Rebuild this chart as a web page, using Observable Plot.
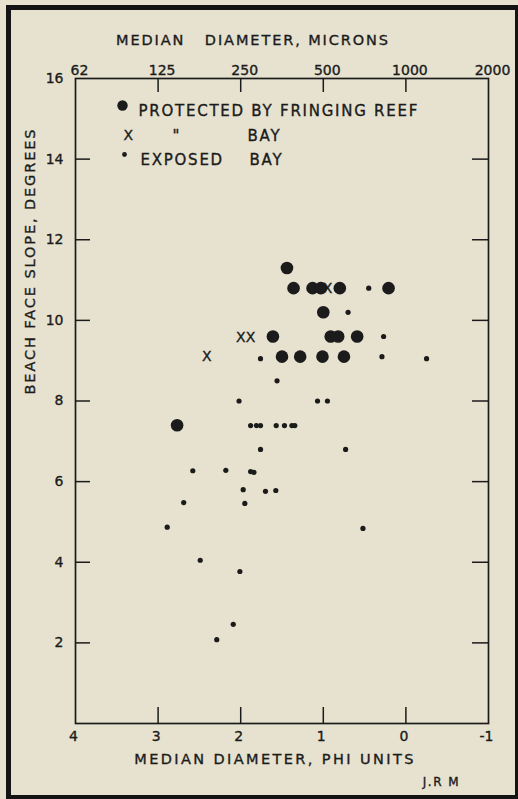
<!DOCTYPE html>
<html><head><meta charset="utf-8">
<script src="https://cdn.jsdelivr.net/npm/d3@7"></script>
<script src="https://cdn.jsdelivr.net/npm/@observablehq/plot@0.6"></script>
<style>
html,body{margin:0;padding:0;background:#e8e5d4;}
#wrap{position:relative;width:518px;height:799px;overflow:hidden;}
#border{position:absolute;left:6px;top:5px;width:512px;height:794px;box-sizing:border-box;border-style:solid;border-color:#141414;border-width:5px 3px 4px 5px;pointer-events:none;}
</style></head><body>
<div id="wrap"><div id="chart"></div><div id="border"></div></div>
<script>
// ---- tick values & labels ----
const phiTicks = [4, 3, 2, 1, 0, -1];
const phiLabels = ["4", "3", "2", "1", "0", "-1"];
const micronLabels = ["62", "125", "250", "500", "1000", "2000"];
const innerPhiTicks = [3, 2, 1, 0];
const slopeTicks = [2, 4, 6, 8, 10, 12, 14, 16];
const innerSlopeTicks = [2, 4, 6, 8, 10, 12, 14];

// ---- series: protected by fringing reef (large dots) ----
const reefPhi   = [1.44, 1.36, 1.13, 1.03, 0.80, 0.21, 1.00, 1.61, 0.91, 0.82, 0.59, 1.50, 1.28, 1.01, 0.75, 2.77];
const reefSlope = [11.3, 10.8, 10.8, 10.8, 10.8, 10.8, 10.2, 9.6,  9.6,  9.6,  9.6,  9.1,  9.1,  9.1,  9.1,  7.4];

// ---- series: protected bay (X) ----
const bayPhi   = [0.95, 2.00, 1.88, 2.41];
const baySlope = [10.8, 9.57, 9.57, 9.1];

// ---- series: exposed bay (small dots) ----
const exposedPhi   = [0.45, 0.70, 0.27, 1.76, 0.29, -0.25, 1.56, 2.02, 1.07, 0.95, 1.88, 1.81, 1.76, 1.57, 1.47, 1.38, 1.345, 1.76, 0.73, 2.58, 2.18, 1.88, 1.84, 1.97, 1.70, 1.575, 2.69, 1.95, 2.89, 0.52, 2.49, 2.01, 2.09, 2.29];
const exposedSlope = [10.8, 10.2, 9.6,  9.05, 9.1,  9.05,  8.5,  8.0,  8.0,  8.0,  7.39, 7.39, 7.39, 7.39, 7.39, 7.39, 7.39,  6.8,  6.8,  6.27, 6.28, 6.25, 6.23, 5.8,  5.76, 5.78,  5.48, 5.46, 4.87, 4.84, 4.05, 3.77, 2.46, 2.08];

// ---- texts ----
const topTitle = "MEDIAN\u00a0\u00a0\u00a0DIAMETER, MICRONS";
const bottomTitle = "MEDIAN DIAMETER, PHI UNITS";
const yTitle = "BEACH FACE SLOPE, DEGREES";
const credit = "J.R\u00a0M";
const legendReef = "PROTECTED BY FRINGING REEF";
const legendDitto = "\"";
const legendBay = "BAY";
const legendExposed = "EXPOSED";

const W = 518, H = 799;
const mL = 75, mR = 30, mT = 78, mB = 76;
const innerW = W - mL - mR, innerH = H - mT - mB;
const ink = "#1b1b1b";
const font = "'DejaVu Sans', 'Liberation Sans', sans-serif";

const chart = Plot.plot({
  width: W, height: H,
  marginLeft: mL, marginRight: mR, marginTop: mT, marginBottom: mB,
  style: {background: "#e6e2cf", fontFamily: font, fontSize: "14px", color: ink},
  x: {domain: [4, -1]},
  y: {domain: [0, 16]},
  marks: [
    Plot.frame({stroke: ink, strokeWidth: 1.7}),
    // inward ticks
    Plot.tickX(innerPhiTicks, {x: d => d, insetTop: innerH - 16, stroke: ink, strokeWidth: 1.5}),
    Plot.tickX(innerPhiTicks, {x: d => d, insetBottom: innerH - 14, stroke: ink, strokeWidth: 1.5}),
    Plot.tickY(innerSlopeTicks, {y: d => d, insetRight: innerW - 15, stroke: ink, strokeWidth: 1.5}),
    Plot.tickY(innerSlopeTicks, {y: d => d, insetLeft: innerW - 16, stroke: ink, strokeWidth: 1.5}),
    // axis labels
    Plot.axisX(phiTicks, {anchor: "bottom", tickSize: 0, tickPadding: 8, dx: -2, label: null, fill: ink, fontSize: 14,
      tickFormat: d => phiLabels[phiTicks.indexOf(d)]}),
    Plot.axisX(phiTicks, {anchor: "top", tickSize: 0, tickPadding: 4, dx: 4, label: null, fill: ink, fontSize: 14,
      tickFormat: d => micronLabels[phiTicks.indexOf(d)]}),
    Plot.axisY(slopeTicks, {anchor: "left", tickSize: 0, tickPadding: 12, label: null, fill: ink, fontSize: 14}),
    // titles
    Plot.text([topTitle], {text: d => d, frameAnchor: "top", dx: -29, dy: -44, fontSize: 14.5, fill: ink}),
    Plot.text([bottomTitle], {text: d => d, frameAnchor: "bottom", dx: -7, dy: 40, fontSize: 14.5, fill: ink}),
    Plot.text([yTitle], {text: d => d, frameAnchor: "left", rotate: -90, dx: -45, dy: -6.5, fontSize: 14.5, fill: ink}),
    Plot.text([credit], {text: d => d, frameAnchor: "bottom", dx: 159.5, dy: 62, fontSize: 12, fill: ink}),
    // legend
    Plot.dot([0], {frameAnchor: "top-left", dx: 47, dy: 27, r: 5.2, fill: ink}),
    Plot.text(["X"], {text: d => d, frameAnchor: "top-left", dx: 48, dy: 52, fontSize: 14, fill: ink}),
    Plot.dot([0], {frameAnchor: "top-left", dx: 49, dy: 76, r: 2.4, fill: ink}),
    Plot.text([legendReef], {text: d => d, frameAnchor: "top-left", dx: 63, dy: 27, textAnchor: "start", fontSize: 15, fill: ink}),
    Plot.text([legendDitto], {text: d => d, frameAnchor: "top-left", dx: 97, dy: 52, fontSize: 15, fill: ink}),
    Plot.text([legendBay], {text: d => d, frameAnchor: "top-left", dx: 172, dy: 52, textAnchor: "start", fontSize: 15, fill: ink}),
    Plot.text([legendExposed], {text: d => d, frameAnchor: "top-left", dx: 65, dy: 76, textAnchor: "start", fontSize: 15, fill: ink}),
    Plot.text([legendBay], {text: d => d, frameAnchor: "top-left", dx: 174, dy: 76, textAnchor: "start", fontSize: 15, fill: ink}),
    // data
    Plot.dot(d3.range(exposedPhi.length), {x: i => exposedPhi[i], y: i => exposedSlope[i], r: 2.6, fill: ink}),
    Plot.dot(d3.range(reefPhi.length), {x: i => reefPhi[i], y: i => reefSlope[i], r: 6.3, fill: ink}),
    Plot.text(d3.range(bayPhi.length), {x: i => bayPhi[i], y: i => baySlope[i], text: () => "X", fontSize: 14, fill: ink})
  ]
});
document.getElementById("chart").appendChild(chart);

// hand-lettered look: slightly heavier strokes and letter spacing on titles/legend
const spaced = new Map([[topTitle, "1.9px"], [bottomTitle, "2.4px"], [yTitle, "1.9px"], [credit, "1.5px"],
  [legendReef, "1.75px"], [legendBay, "1.75px"], [legendExposed, "1.75px"]]);
d3.select(chart).selectAll("text").each(function () {
  const t = this.textContent;
  this.setAttribute("stroke", ink);
  this.setAttribute("stroke-width", "0.35");
  if (spaced.has(t)) this.style.letterSpacing = spaced.get(t);
});
</script>
</body></html>
